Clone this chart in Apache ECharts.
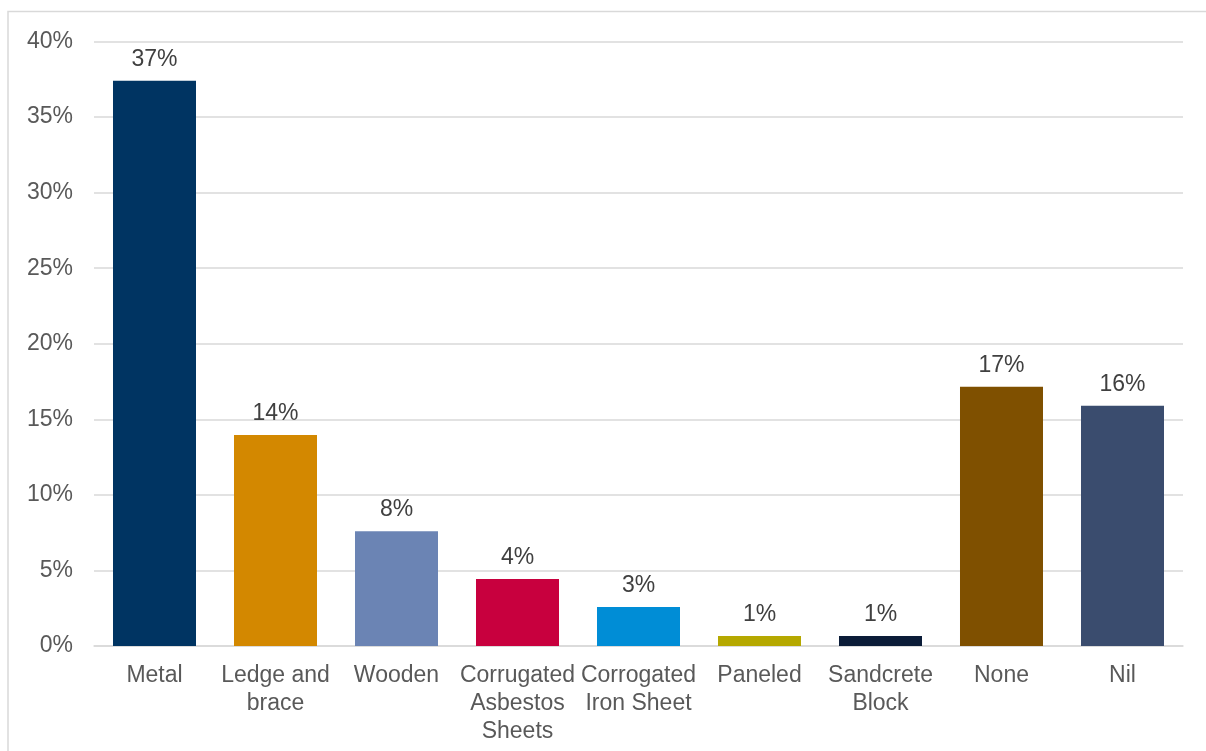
<!DOCTYPE html>
<html>
<head>
<meta charset="utf-8">
<script src="https://cdn.jsdelivr.net/npm/echarts@6/dist/echarts.min.js"></script>
<style>
html,body{margin:0;padding:0;background:#fff;}
#chart{width:1206px;height:751px;}
</style>
</head>
<body>
<div id="chart"></div>
<script>
const categories = ["Metal", "Ledge and\nbrace", "Wooden", "Corrugated\nAsbestos\nSheets", "Corrogated\nIron Sheet", "Paneled", "Sandcrete\nBlock", "None", "Nil"];
const values = [37.4, 13.97, 7.6, 4.44, 2.58, 0.66, 0.66, 17.15, 15.9];
const colors = ["#003462", "#D38800", "#6B84B4", "#C8003E", "#008DD6", "#B5A800", "#0B1C38", "#7F5000", "#3A4C6E"];
const yTicks = [0, 5, 10, 15, 20, 25, 30, 35, 40];

const chart = echarts.init(document.getElementById('chart'), null, {renderer: 'canvas'});
const FONT = '"Liberation Sans", Arial, sans-serif';
chart.setOption({
  animation: false,
  backgroundColor: '#fff',
  graphic: [{
    type: 'rect',
    shape: {x: 8, y: 11.5, width: 1300, height: 900},
    style: {fill: 'none', stroke: '#d9d9d9', lineWidth: 1.5},
    silent: true
  }],
  grid: {left: 94, right: 23, top: 41.5, bottom: 105, containLabel: false},
  xAxis: {
    type: 'category',
    data: categories,
    axisLine: {show: true, lineStyle: {color: '#d9d9d9', width: 1.5}},
    axisTick: {show: false},
    axisLabel: {
      interval: 0, color: '#595959', fontSize: 23, fontFamily: FONT,
      lineHeight: 28, margin: 16
    }
  },
  yAxis: {
    type: 'value',
    min: yTicks[0], max: yTicks[yTicks.length - 1], interval: 5,
    axisLine: {show: false},
    axisTick: {show: false},
    splitLine: {lineStyle: {color: '#d9d9d9', width: 1.5}},
    axisLabel: {
      color: '#595959', fontSize: 23, fontFamily: FONT, margin: 21,
      lineHeight: 23, padding: [3, 0, 0, 0],
      formatter: v => v + '%'
    }
  },
  series: [{
    type: 'bar',
    barWidth: '68.6%',
    data: values.map((v, i) => ({value: v, itemStyle: {color: colors[i]}})),
    label: {
      show: true, position: 'top', distance: 10,
      color: '#404040', fontSize: 23, fontFamily: FONT, lineHeight: 23,
      formatter: p => Math.round(p.value) + '%'
    }
  }]
});
</script>
</body>
</html>
